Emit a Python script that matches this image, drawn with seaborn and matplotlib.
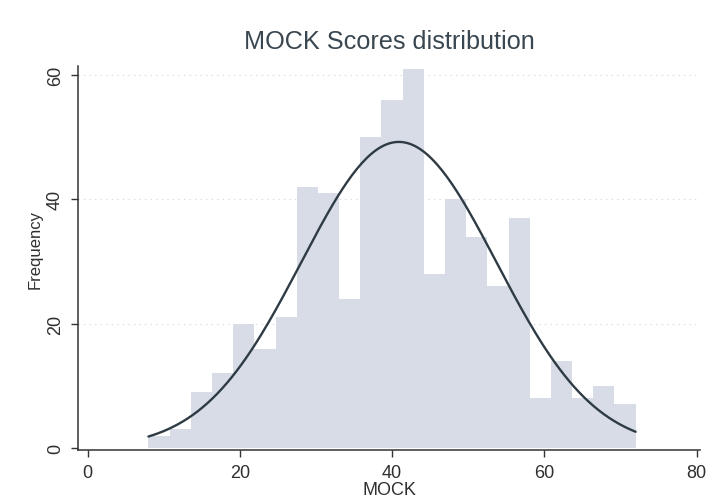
import numpy as np
import pandas as pd
import seaborn as sns
import matplotlib.pyplot as plt

# histogram of MOCK scores, 23 bins between 8 and 72
bin_start = 8.0
bin_end = 72.0
counts = [2, 3, 9, 12, 20, 16, 21, 42, 41, 24, 50, 56,
          61, 28, 40, 34, 26, 37, 8, 14, 8, 10, 7]
x_ticks = [0, 20, 40, 60, 80]
y_ticks = [0, 20, 40, 60]

edges = np.linspace(bin_start, bin_end, len(counts) + 1)
centers = (edges[:-1] + edges[1:]) / 2
width = edges[1] - edges[0]
df = pd.DataFrame({'MOCK': centers, 'n': counts})

# normal curve fitted to the binned data (as Stata's "normal" option)
n_total = df['n'].sum()
mu = np.average(df['MOCK'], weights=df['n'])
sd = np.sqrt(np.average((df['MOCK'] - mu) ** 2, weights=df['n']))
xs = np.linspace(bin_start, bin_end, 200)
curve = pd.DataFrame({
    'MOCK': xs,
    'freq': n_total * width / (sd * np.sqrt(2 * np.pi)) * np.exp(-0.5 * ((xs - mu) / sd) ** 2),
})

sns.set_style('white')
plt.rcParams['font.family'] = ['Liberation Sans', 'DejaVu Sans']

fig = plt.figure(figsize=(7.06, 5.02), dpi=100)
ax = fig.add_axes([0.110, 0.102, 0.882, 0.765])

sns.histplot(data=df, x='MOCK', weights='n', binwidth=width, binrange=(bin_start, bin_end),
             color='#d7dce6', alpha=1, edgecolor='none', linewidth=0, ax=ax)
sns.lineplot(data=curve, x='MOCK', y='freq', color='#2f3b44', linewidth=1.7, ax=ax)

for y in y_ticks[1:]:
    ax.axhline(y, color='#cfd3d8', linewidth=0.8, linestyle=(0, (1, 4)), zorder=0)

ax.set_xlim(-1.3, 80.5)
ax.set_ylim(-0.3, 61.5)
ax.set_xticks(x_ticks)
ax.set_yticks(y_ticks)
ax.set_yticklabels([str(v) for v in y_ticks], rotation=90, va='center')
ax.tick_params(axis='both', labelsize=13, length=5, width=1, color='#333333',
               labelcolor='#2f2f2f', direction='out', pad=5, bottom=True, left=True)

ax.set_xlabel('MOCK', fontsize=13, color='#2f2f2f', labelpad=0)
ax.set_ylabel('Frequency', fontsize=12, color='#2f2f2f')
ax.yaxis.set_label_coords(-0.056, 0.523)
ax.set_title('MOCK Scores distribution', fontsize=18.2, color='#3a4750', pad=13)

sns.despine(ax=ax)
for side in ['left', 'bottom']:
    ax.spines[side].set_color('#333333')
    ax.spines[side].set_linewidth(1.1)

fig.savefig('out.png', dpi=100)
